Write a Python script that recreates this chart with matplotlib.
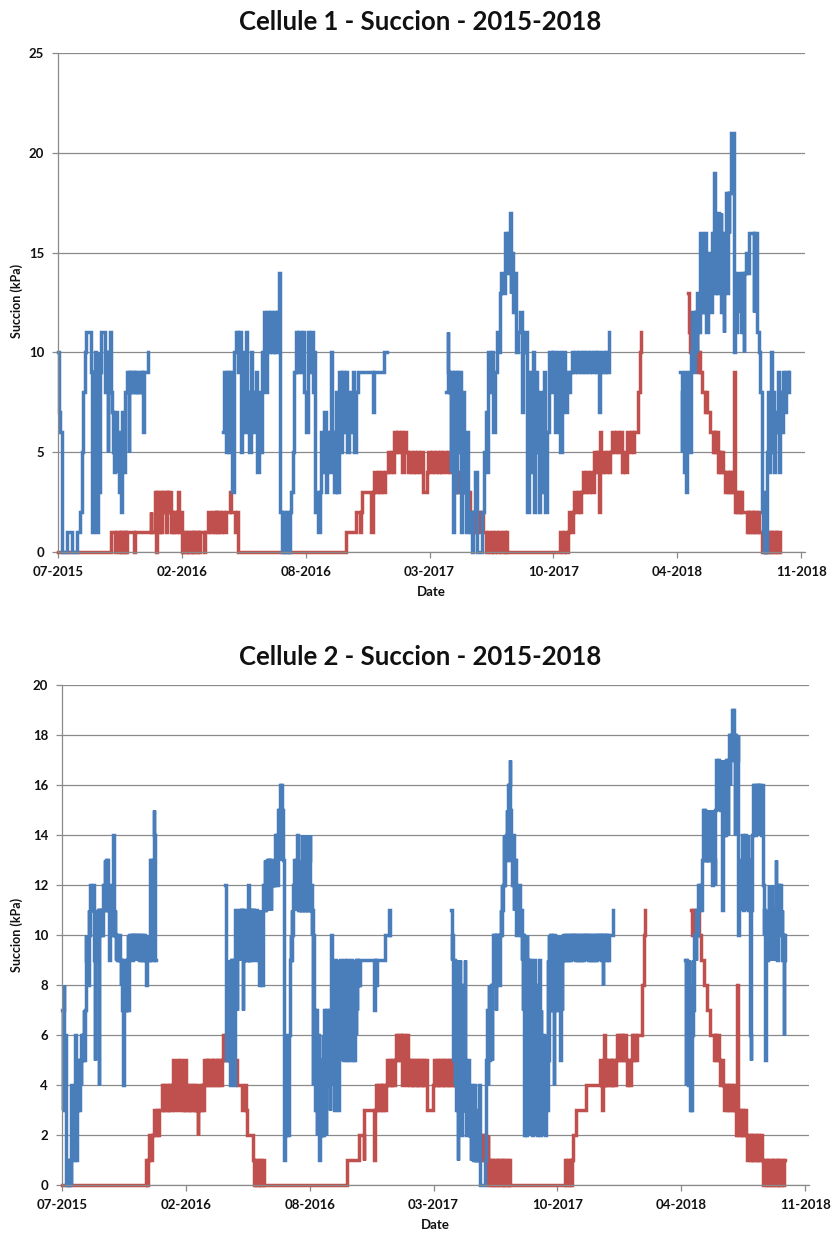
import numpy as np
import matplotlib
matplotlib.use('Agg')
import matplotlib.pyplot as plt
import matplotlib.dates as mdates

# day offsets from the first axis date, suction in kPa
START = '2015-07-25'
tick_dates = ['2015-07-25', '2016-02-10', '2016-08-28', '2017-03-16',
              '2017-10-02', '2018-04-20', '2018-11-06']
tick_labels = ['07-2015', '02-2016', '08-2016', '03-2017', '10-2017', '04-2018', '11-2018']

titles = ['Cellule 1 - Succion - 2015-2018', 'Cellule 2 - Succion - 2015-2018']
ylims = [25, 20]
ysteps = [5, 2]

# ---- Cellule 1, blue sensor (segments separated by data gaps)
c1_blue = [
    [(0,10),(2,7),(4,6),(6,0),(14,0),(15,1),(21,1),(23,0),(29,0),(30,1),(34,1),(35,2),(38,5),(40,8),(42,8),
     (43,10),(46,11),(51,11),(53,9),(55,1),(57,9),(58,3),(60,10),(62,1),(64,10),(65,3),(68,9),(70,11),(74,11),
     (76,8),(77,10),(80,5),(81,10),(84,11),(85,8),(88,7),(89,5),(91,4),(92,7),(95,4),(96,6),(99,3),(101,2),
     (103,6),(104,7),(107,4),(109,8),(111,9),(114,5),(115,9),(117,8),(119,9),(121,8),(122,9),(124,8),(126,9),
     (127,8),(129,9),(130,8),(132,9),(134,8),(135,9),(137,6),(139,9),(143,9),(146,10)],
    [(266,6),(268,9),(271,5),(273,9),(276,5),(278,9),(281,3),(284,8),(285,10),(288,11),(290,9),(292,11),(295,5),
     (297,10),(300,6),(303,11),(305,8),(308,5),(311,10),(313,8),(316,6),(319,9),(322,4),(324,8),(327,5),(330,10),
     (332,12),(335,8),(338,12),(340,10),(343,12),(346,10),(349,12),(351,10),(354,12),(357,14),(358,10),(359,2),
     (361,0),(364,2),(367,0),(370,2),(373,0),(375,2),(377,3),(379,5),(381,9),(384,11),(386,9),(389,11),(392,9),
     (395,11),(397,8),(400,6),(403,11),(405,9),(408,11),(411,8),(413,10),(415,2),(417,3),(420,1),(423,3),(425,6),
     (427,4),(430,7),(432,3),(435,6),(438,4),(440,10),(443,6),(446,3),(449,8),(451,3),(454,9),(457,5),(459,9),
     (462,6),(465,9),(467,5),(470,8),(473,6),(476,9),(478,5),(481,8),(484,9),(500,9),(505,9),(508,7),(510,9),
     (522,9),(524,9),(527,10),(532,10)],
    [(627,8),(629,11),(630,9),(632,8),(634,4),(635,9),(638,1),(640,9),(642,3),(644,9),(646,5),(649,9),(651,1),
     (653,8),(655,4),(657,3),(658,1),(660,6),(662,2),(665,1),(668,0),(670,2),(673,4),(676,1),(677,0),(681,0),
     (685,2),(688,5),(691,7),(693,4),(695,10),(697,8),(700,10),(703,6),(705,9),(708,11),(711,10),(713,13),
     (716,14),(719,13),(722,16),(724,14),(727,16),(729,17),(731,13),(732,15),(735,12),(738,14),(740,10),(743,11),
     (746,12),(749,7),(751,10),(754,11),(757,6),(758,2),(760,9),(762,8),(765,4),(767,10),(769,2),(770,9),(773,5),
     (776,2),(778,8),(781,3),(784,9),(787,2),(789,6),(792,10),(795,10),(797,8),(800,10),(803,6),(805,9),(808,10),
     (811,5),(814,9),(816,10),(819,7),(822,9),(824,8),(827,9),(830,10),(832,9),(835,10),(838,9),(841,10),(844,9),
     (847,10),(850,9),(853,10),(856,9),(859,10),(862,9),(865,10),(868,9),(870,10),(873,7),(875,9),(878,10),
     (881,9),(884,10),(886,9),(889,11)],
    [(1005,9),(1007,5),(1008,8),(1010,4),(1012,9),(1014,3),(1015,8),(1017,6),(1018,9),(1020,5),(1022,10),
     (1024,12),(1027,9),(1029,12),(1031,10),(1032,13),(1035,11),(1037,16),(1039,12),(1041,16),(1042,12),
     (1044,16),(1046,11),(1049,13),(1051,15),(1054,12),(1056,16),(1058,15),(1059,19),(1061,13),(1062,15),
     (1064,13),(1066,17),(1068,14),(1070,17),(1071,12),(1073,16),(1075,11),(1076,14),(1078,18),(1080,13),
     (1081,18),(1083,16),(1084,18),(1086,21),(1088,21),(1090,21),(1091,10),(1093,12),(1095,11),(1097,14),
     (1099,12),(1100,13),(1103,11),(1105,14),(1107,10),(1108,14),(1111,15),(1113,14),(1116,16),(1118,16),
     (1121,16),(1123,12),(1124,16),(1127,16),(1129,11),(1132,10),(1134,8),(1136,2),(1138,1),(1140,0),(1141,3),
     (1143,0),(1145,5),(1147,8),(1148,4),(1150,7),(1151,10),(1153,5),(1154,8),(1156,4),(1158,7),(1160,6),
     (1162,9),(1164,4),(1166,8),(1168,6),(1170,9),(1172,7),(1175,9),(1178,8),(1181,9)],
]

# ---- Cellule 1, red sensor
c1_red = [
    [(0,0),(85,0),(86,1),(90,1),(92,0),(94,1),(96,1),(98,0),(100,1),(102,0),(104,1),(106,0),(108,1),(110,0),
     (112,1),(122,1),(123,0),(124,1),(148,1),(150,2),(151,1),(155,1),(156,3),(158,1),(159,0),(160,3),(162,1),
     (164,3),(166,1),(168,3),(170,2),(172,3),(174,1),(176,3),(178,2),(180,3),(182,1),(184,2),(186,1),(188,2),
     (190,1),(192,2),(194,3),(196,1),(198,2),(200,0),(202,1),(204,0),(206,1),(208,0),(210,1),(212,0),(214,1),
     (216,0),(218,1),(220,0),(222,1),(224,0),(226,1),(228,0),(230,1),(234,1),(235,0),(237,0),(238,1),(241,1),
     (243,2),(245,1),(249,1),(251,2),(253,1),(255,2),(257,1),(259,2),(262,1),(265,2),(268,1),(271,2),(274,2),
     (277,3),(279,2),(283,2),(286,1),(289,2),(291,0),(464,0),(465,1),(470,1),(473,1),(476,1),(479,1),(481,2),
     (484,2),(486,2),(488,1),(489,2),(491,3),(495,3),(499,3),(503,3),(506,1),(508,3),(510,4),(513,3),(516,4),
     (519,3),(522,4),(525,3),(528,4),(531,4),(533,5),(535,4),(538,5),(541,4),(543,6),(545,5),(548,6),(551,5),
     (554,6),(556,4),(559,6),(562,5),(565,4),(568,5),(571,4),(574,5),(577,4),(580,5),(583,4),(586,5),(589,3),
     (592,3),(595,4),(598,5),(601,4),(604,5),(607,4),(610,5),(613,4),(616,5),(619,4),(622,5),(624,5),(627,4),
     (630,5),(633,4),(636,5),(639,3),(642,4),(645,3),(648,4),(651,3),(654,4),(657,3),(660,2),(663,3),(666,2),
     (668,1),(671,2),(674,1),(677,2),(680,1),(683,2),(686,1),(689,1),(691,0),(694,1),(697,0),(700,1),(703,0),
     (706,1),(709,0),(712,1),(715,0),(718,1),(721,0),(724,1),(725,0),(810,0),(811,1),(814,0),(817,1),(820,0),
     (823,1),(825,2),(828,1),(831,2),(833,3),(836,2),(839,3),(842,2),(845,3),(847,4),(850,3),(853,4),(856,3),
     (859,4),(862,3),(865,5),(868,4),(871,5),(873,2),(875,6),(877,4),(880,5),(883,4),(886,5),(889,4),(892,5),
     (895,6),(898,5),(901,6),(904,5),(907,6),(910,4),(913,5),(916,4),(919,6),(922,5),(925,6),(928,5),(930,6),
     (936,6),(937,8),(939,10),(941,11)],
    [(1017,13),(1018,11),(1020,10),(1022,11),(1024,10),(1026,11),(1028,10),(1030,11),(1031,10),(1033,9),
     (1035,10),(1037,9),(1039,8),(1042,8),(1044,7),(1046,8),(1048,7),(1051,7),(1053,6),(1055,6),(1057,5),
     (1059,6),(1061,5),(1063,6),(1065,4),(1067,5),(1069,4),(1071,5),(1073,4),(1075,4),(1077,3),(1079,4),
     (1081,3),(1083,4),(1085,3),(1087,4),(1089,3),(1091,3),(1092,9),(1093,2),(1095,3),(1097,2),(1099,3),
     (1101,2),(1103,3),(1105,2),(1107,2),(1110,2),(1112,1),(1114,2),(1116,1),(1118,2),(1120,1),(1122,2),
     (1124,1),(1126,2),(1128,1),(1130,2),(1132,1),(1134,1),(1137,0),(1139,1),(1141,0),(1143,1),(1145,0),
     (1147,1),(1149,0),(1151,1),(1153,0),(1155,1),(1157,0),(1159,1),(1161,0),(1163,1),(1165,0)],
]

# ---- Cellule 2, blue sensor
c2_blue = [
    [(0,7),(1,3),(2,7),(3,8),(4,3),(5,6),(6,1),(7,0),(9,1),(11,0),(13,1),(14,0),(15,4),(16,2),(18,1),(19,4),
     (20,2),(21,6),(22,3),(23,1),(24,4),(25,3),(26,5),(27,3),(29,5),(30,4),(31,6),(32,5),(34,6),(35,7),(36,5),
     (37,7),(38,10),(39,9),(40,10),(41,8),(43,11),(44,10),(45,11),(46,12),(47,11),(48,12),(49,11),(50,12),
     (51,11),(52,9),(53,5),(54,10),(55,9),(56,11),(57,10),(58,11),(59,4),(60,11),(61,10),(62,11),(63,10),
     (64,11),(65,10),(66,11),(67,12),(68,11),(69,13),(70,11),(71,13),(72,11),(73,13),(74,12),(75,11),(76,9),
     (77,12),(78,11),(79,12),(80,10),(82,12),(83,14),(84,10),(85,11),(86,10),(87,9),(88,10),(89,9),(90,10),
     (91,9),(92,10),(93,9),(95,8),(96,9),(97,7),(98,9),(99,4),(100,9),(101,7),(103,9),(104,7),(105,9),(106,10),
     (107,7),(108,9),(109,10),(111,9),(112,10),(113,9),(114,10),(116,9),(117,10),(119,9),(120,10),(122,9),
     (123,10),(125,9),(126,10),(128,9),(129,10),(131,9),(132,10),(134,9),(135,8),(137,10),(138,9),(140,10),
     (141,9),(142,13),(143,9),(144,13),(145,10),(146,9),(148,15),(149,14),(150,9),(152,9)],
    [(264,12),(265,5),(266,8),(268,6),(269,9),(270,5),(271,8),(272,4),(273,9),(274,6),(275,9),(276,5),(277,8),
     (278,4),(279,9),(280,11),(281,9),(282,7),(283,10),(284,9),(285,10),(286,11),(287,9),(288,10),(289,11),
     (290,9),(291,11),(292,7),(293,9),(294,11),(295,9),(296,10),(297,9),(298,11),(299,9),(300,10),(301,12),
     (302,9),(303,11),(304,9),(305,11),(306,9),(307,11),(308,10),(309,11),(310,9),(311,11),(312,10),(313,9),
     (314,11),(315,10),(316,11),(317,9),(318,8),(319,11),(320,9),(321,11),(322,10),(323,8),(324,11),(325,12),
     (326,11),(327,13),(328,11),(329,13),(330,12),(331,13),(332,11),(333,13),(334,12),(335,13),(336,12),
     (337,11),(338,13),(339,12),(340,13),(341,12),(342,13),(343,12),(344,14),(345,13),(346,14),(347,12),
     (348,13),(349,15),(350,13),(351,15),(352,16),(353,15),(354,16),(355,13),(356,15),(357,13),(358,4),(359,1),
     (360,6),(361,3),(362,2),(363,6),(364,3),(365,2),(366,3),(367,6),(368,9),(369,10),(370,9),(371,11),
     (372,10),(373,12),(374,11),(375,13),(376,11),(377,12),(378,13),(379,11),(380,14),(381,11),(382,13),
     (383,11),(384,13),(385,12),(386,11),(387,14),(388,11),(389,13),(390,12),(391,11),(392,14),(393,11),
     (394,13),(395,14),(396,11),(397,14),(398,11),(399,13),(400,14),(401,11),(402,12),(403,10),(404,11),(405,4),
     (406,10),(407,7),(408,5),(409,3),(410,7),(411,2),(412,5),(413,2),(414,6),(415,1),(416,4),(417,2),(418,5),
     (419,3),(420,2),(421,6),(422,2),(423,7),(424,3),(425,5),(426,2),(427,7),(428,4),(429,6),(430,5),(431,7),
     (432,3),(433,6),(434,5),(435,10),(436,6),(437,4),(438,7),(439,3),(440,6),(441,9),(442,6),(443,4),(444,8),
     (445,6),(446,3),(447,9),(448,6),(449,9),(450,5),(451,8),(452,6),(453,9),(454,5),(455,8),(456,9),(457,6),
     (458,9),(459,5),(460,9),(461,7),(462,5),(463,9),(464,6),(465,8),(466,5),(467,9),(468,7),(469,5),(470,8),
     (471,9),(472,5),(473,8),(474,6),(475,9),(476,7),(477,9),(478,8),(479,9),(480,8),(481,9),(490,9),(500,9),
     (503,9),(504,7),(505,9),(507,8),(508,9),(521,9),(522,10),(526,10),(528,11),(530,10)],
    [(628,11),(629,9),(630,10),(631,9),(632,5),(633,9),(634,4),(635,8),(636,3),(637,9),(638,6),(639,1),(640,8),
     (641,4),(642,9),(643,3),(644,7),(645,2),(646,6),(647,4),(648,8),(649,3),(650,9),(651,3),(652,5),(653,2),
     (654,4),(655,3),(656,5),(657,2),(658,4),(659,2),(660,1),(661,4),(662,2),(663,3),(664,1),(665,2),(666,4),
     (667,1),(668,3),(669,1),(670,2),(672,1),(674,4),(675,0),(681,0),(683,1),(685,5),(686,7),(687,4),(688,6),
     (689,8),(690,5),(691,7),(692,6),(693,8),(694,5),(695,8),(696,10),(697,8),(698,10),(699,9),(700,7),
     (701,10),(702,8),(703,10),(704,9),(705,10),(706,8),(707,10),(708,11),(709,10),(710,12),(711,11),(712,12),
     (713,14),(714,12),(715,14),(716,13),(717,14),(718,15),(719,13),(720,16),(721,14),(722,16),(723,17),
     (724,15),(725,13),(726,14),(727,12),(728,14),(729,11),(730,13),(731,12),(732,13),(733,10),(734,12),
     (735,11),(736,10),(737,11),(738,12),(739,11),(740,10),(741,11),(742,9),(743,10),(744,7),(745,10),(746,2),
     (747,9),(748,6),(749,2),(750,10),(751,8),(752,3),(753,9),(754,5),(755,2),(756,9),(757,6),(758,4),(759,2),
     (760,7),(761,3),(762,9),(763,2),(764,6),(765,4),(766,8),(767,2),(768,5),(769,3),(770,9),(771,4),(772,2),
     (773,7),(774,3),(775,5),(776,2),(777,6),(778,3),(779,5),(780,2),(781,6),(782,4),(783,3),(784,9),(785,5),
     (786,10),(787,7),(788,10),(789,8),(790,10),(791,7),(792,10),(793,9),(794,4),(795,10),(796,7),(797,10),
     (798,8),(799,10),(800,9),(801,7),(802,10),(803,9),(804,5),(805,10),(806,9),(807,7),(808,9),(809,10),
     (811,9),(812,10),(814,9),(815,10),(817,9),(818,10),(820,9),(821,10),(823,9),(824,10),(826,9),(827,10),
     (829,9),(830,10),(832,9),(833,10),(835,9),(836,10),(838,9),(839,10),(841,9),(842,10),(844,9),(845,10),
     (847,9),(848,10),(850,9),(851,10),(853,9),(854,10),(856,9),(857,10),(859,9),(860,10),(862,9),(863,10),
     (865,9),(866,10),(868,9),(869,10),(871,9),(872,10),(873,8),(874,10),(876,9),(877,10),(879,9),(880,10),
     (882,9),(883,10),(885,10),(887,10),(889,11)],
    [(1006,9),(1007,4),(1008,9),(1009,5),(1010,8),(1011,4),(1012,9),(1013,5),(1014,3),(1015,8),(1016,3),
     (1017,6),(1018,9),(1019,7),(1020,9),(1021,10),(1023,9),(1024,11),(1026,10),(1027,12),(1029,11),(1030,12),
     (1032,11),(1033,12),(1034,13),(1035,15),(1036,13),(1037,15),(1038,13),(1039,15),(1040,13),(1041,15),
     (1042,13),(1043,14),(1044,15),(1045,13),(1046,15),(1047,14),(1048,13),(1049,15),(1050,12),(1051,13),
     (1052,12),(1053,13),(1054,12),(1055,15),(1056,17),(1057,15),(1058,16),(1059,17),(1060,15),(1061,16),
     (1062,17),(1063,15),(1064,16),(1065,17),(1066,11),(1067,14),(1068,17),(1069,15),(1070,16),(1071,14),
     (1072,17),(1073,15),(1074,16),(1075,14),(1076,17),(1077,18),(1078,16),(1079,18),(1080,17),(1081,18),
     (1082,19),(1083,18),(1084,19),(1085,18),(1086,14),(1087,18),(1088,16),(1089,18),(1090,17),(1091,18),
     (1092,10),(1093,12),(1094,11),(1095,13),(1096,11),(1097,12),(1098,14),(1099,12),(1100,11),(1101,13),
     (1102,12),(1103,14),(1104,11),(1105,13),(1106,12),(1107,14),(1108,11),(1109,13),(1110,12),(1111,6),
     (1112,5),(1113,11),(1114,14),(1115,15),(1116,16),(1117,15),(1118,16),(1119,14),(1120,16),(1121,15),
     (1122,16),(1123,14),(1124,16),(1125,15),(1126,16),(1127,15),(1128,16),(1129,14),(1130,16),(1131,13),
     (1132,12),(1133,10),(1134,11),(1135,5),(1136,9),(1137,10),(1138,11),(1139,9),(1140,10),(1141,12),
     (1142,10),(1143,11),(1144,9),(1145,10),(1146,12),(1147,10),(1148,11),(1149,9),(1150,11),(1151,10),
     (1152,13),(1153,10),(1154,11),(1155,9),(1156,12),(1157,10),(1158,11),(1159,10),(1160,12),(1161,10),
     (1162,11),(1163,9),(1164,10),(1165,6),(1166,9),(1167,10)],
]

# ---- Cellule 2, red sensor
c2_red = [
    [(0,0),(134,0),(135,1),(137,0),(139,1),(141,2),(143,1),(145,2),(147,2),(149,3),(151,2),(153,3),(155,2),
     (157,3),(159,3),(161,4),(163,3),(165,4),(167,3),(169,4),(171,3),(173,4),(175,3),(177,4),(179,5),(181,3),
     (183,4),(185,5),(187,3),(189,4),(191,5),(193,3),(195,4),(197,3),(199,5),(201,3),(203,4),(205,3),(207,4),
     (209,3),(211,4),(213,3),(215,4),(217,3),(219,2),(220,3),(222,4),(224,3),(226,4),(228,3),(230,5),(232,4),
     (234,5),(236,4),(238,5),(240,4),(242,5),(244,4),(246,5),(248,4),(250,5),(252,4),(254,5),(256,4),(258,5),
     (260,6),(262,5),(264,6),(266,5),(268,6),(270,5),(272,6),(274,5),(276,6),(278,5),(282,5),(283,4),(290,4),
     (291,3),(295,3),(296,4),(297,3),(299,2),(307,2),(308,1),(310,0),(312,1),(314,0),(316,1),(318,0),(320,1),
     (322,0),(324,1),(326,0),(328,0),(459,0),(460,1),(478,1),(479,2),(486,2),(487,1),(488,3),(503,3),(504,1),
     (505,3),(507,4),(509,3),(511,4),(513,3),(515,4),(517,3),(519,4),(521,3),(523,4),(525,5),(527,4),(529,5),
     (531,4),(533,5),(535,4),(537,5),(539,6),(541,5),(543,6),(545,5),(547,6),(549,4),(551,6),(553,5),(555,4),
     (557,6),(559,5),(561,4),(563,5),(565,4),(567,5),(569,4),(571,5),(573,4),(575,5),(577,4),(579,5),(581,4),
     (583,5),(585,4),(587,5),(589,3),(593,3),(597,3),(599,4),(601,5),(603,4),(605,5),(607,4),(609,5),(611,4),
     (613,5),(615,4),(617,5),(619,4),(621,5),(623,4),(625,5),(627,4),(629,5),(631,4),(633,5),(635,4),(637,5),
     (639,4),(641,3),(643,4),(645,3),(647,4),(649,3),(651,4),(653,3),(655,4),(657,3),(659,3),(661,2),(663,3),
     (665,2),(667,3),(669,2),(671,2),(673,1),(675,2),(677,1),(679,2),(681,1),(683,2),(685,1),(687,2),(688,0),
     (690,1),(692,0),(694,1),(696,0),(698,1),(700,0),(702,1),(704,0),(706,1),(708,0),(710,1),(712,0),(714,1),
     (716,0),(718,1),(720,0),(722,1),(724,0),(811,0),(812,1),(814,0),(816,1),(818,0),(820,1),(822,0),(824,1),
     (825,2),(829,2),(830,3),(845,3),(846,4),(866,4),(868,5),(870,4),(872,3),(874,4),(875,6),(876,4),(878,5),
     (880,4),(882,5),(884,4),(886,5),(888,4),(890,5),(892,4),(894,5),(896,6),(898,5),(900,6),(902,5),(904,6),
     (906,5),(908,6),(910,5),(912,4),(914,5),(916,4),(918,5),(920,6),(922,5),(924,6),(926,5),(928,6),(936,6),
     (937,8),(939,10),(941,11)],
    [(1016,11),(1017,10),(1019,11),(1021,10),(1023,11),(1025,10),(1027,11),(1029,10),(1031,10),(1032,9),
     (1035,9),(1036,8),(1041,8),(1042,7),(1046,7),(1047,6),(1050,6),(1052,5),(1054,6),(1056,5),(1058,6),
     (1060,5),(1062,5),(1063,4),(1065,5),(1067,4),(1069,3),(1071,4),(1073,3),(1075,4),(1077,3),(1079,4),
     (1081,3),(1083,4),(1085,3),(1087,3),(1088,2),(1089,3),(1090,8),(1091,3),(1092,2),(1094,3),(1096,2),
     (1098,3),(1100,2),(1102,3),(1104,2),(1106,1),(1108,2),(1110,1),(1112,2),(1114,1),(1116,2),(1118,1),
     (1120,2),(1122,1),(1124,2),(1126,1),(1128,2),(1130,1),(1132,0),(1134,1),(1136,0),(1138,1),(1140,0),
     (1142,1),(1144,0),(1146,1),(1148,0),(1150,1),(1152,0),(1154,1),(1156,0),(1158,1),(1160,0),(1162,1),
     (1164,0),(1166,1),(1167,1)],
]

BLUE = '#4a7ebb'
RED = '#c0504d'
GRID = '#8a8a8a'

plt.rcParams['font.family'] = ['Lato', 'DejaVu Sans']

fig = plt.figure(figsize=(8.34, 12.34), dpi=100)
t0 = mdates.datestr2num(START)
ticks = [mdates.datestr2num(d) for d in tick_dates]

# axes boxes in figure fraction [left, bottom, width, height]
boxes = [[0.0695, 0.5527, 0.8957, 0.4043], [0.0743, 0.0397, 0.8957, 0.4052]]
title_y = [1 - 22/1234, 1 - 657/1234]
ylab_y = [1 - 301/1234, 1 - 935/1234]
series = [(c1_red, c1_blue), (c2_red, c2_blue)]

for i in range(2):
    ax = fig.add_axes(boxes[i])
    red, blue = series[i]
    for segs, col in ((red, RED), (blue, BLUE)):
        for seg in segs:
            a = np.array(seg, dtype=float)
            ax.plot(t0 + a[:, 0], a[:, 1], color=col, lw=2.5, clip_on=False,
                    drawstyle='steps-post', solid_joinstyle='miter')
    ax.set_xlim(t0, t0 + 1206)
    ax.set_ylim(0, ylims[i])
    ax.set_yticks(np.arange(0, ylims[i] + 1, ysteps[i]))
    ax.set_xticks(ticks, tick_labels)
    ax.grid(axis='y', color=GRID, lw=0.9)
    ax.set_axisbelow(True)
    for s in ('top', 'right'):
        ax.spines[s].set_visible(False)
    for s in ('left', 'bottom'):
        ax.spines[s].set_color(GRID)
        ax.spines[s].set_linewidth(0.9)
    ax.tick_params(axis='both', colors=GRID, length=4, width=0.9, pad=6, labelcolor='#111111')
    for lab in ax.get_xticklabels() + ax.get_yticklabels():
        lab.set_fontweight('bold')
        lab.set_fontsize(9.5)
    ax.set_xlabel('Date', fontsize=9.5, fontweight='bold', labelpad=6, color='#111111')
    fig.text(0.5035, title_y[i], titles[i], ha='center', va='center',
             fontsize=18.5, fontweight='bold', color='#111111')
    fig.text(17/834, ylab_y[i], 'Succion (kPa)', rotation=90, ha='center', va='center',
             fontsize=9, fontweight='bold', color='#111111')

fig.savefig('out.png', dpi=100)
